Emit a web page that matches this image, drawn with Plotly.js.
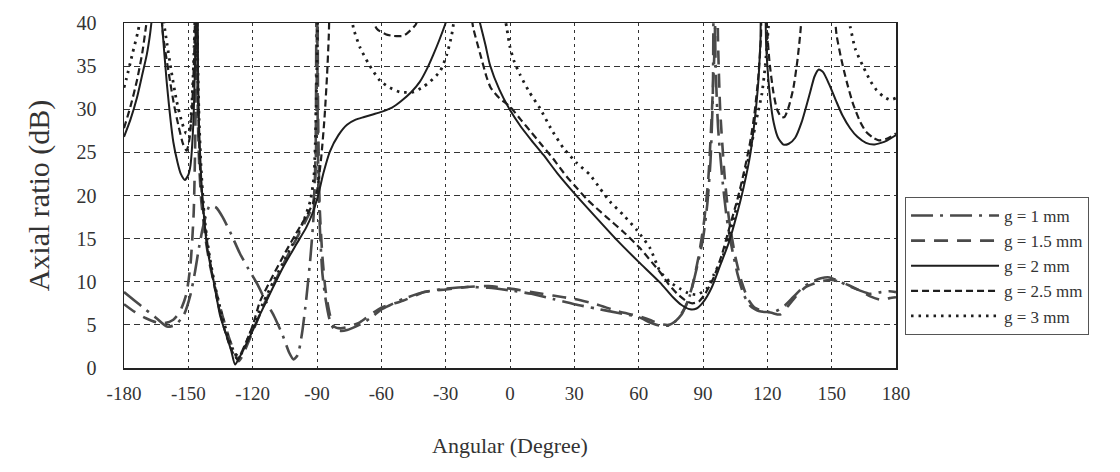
<!DOCTYPE html>
<html><head><meta charset="utf-8">
<script src="https://cdn.plot.ly/plotly-3.0.1.min.js"></script>
<style>html,body{margin:0;padding:0;background:#fff;}#chart{width:1120px;height:472px;}</style>
</head><body><div id="chart"></div>
<script>
// Axial ratio (dB) versus angle (degree) for five gap widths g
const xTicks = [-180,-150,-120,-90,-60,-30,0,30,60,90,120,150,180];
const yTicks = [0,5,10,15,20,25,30,35,40];
const seriesNames = ["g = 1 mm","g = 1.5 mm","g = 2 mm","g = 2.5 mm","g = 3 mm"];

const g1x = [-180,-175,-170,-165,-160,-156,-152,-149,-147,-145,-143,-140,-137,-134,-130,-126,-122,-118,-114,-110,-106,-103,-101,-99,-97,-95,-93,-91.5,-90.6,-90.1,-89.6,-88.8,-87.5,-86,-84,-82,-79,-76,-72,-68,-64,-60,-55,-50,-40,-30,-20,-10,0,10,20,30,40,50,60,65,70,75,80,84,87,90,92,93.5,94.6,95.2,95.8,97,99,101,103,106,109,112,116,120,124,128,132,136,140,145,149,153,158,163,168,173,177,180];
const g1y = [8.8,7.8,6.8,5.8,4.8,5.0,6.2,8.5,11,14,16.5,18.8,18.6,17.5,15.5,13.3,11.5,9.8,7.8,6.0,3.8,1.8,1.0,1.5,4,8,13,18,26,60,26,17,11,8,5.5,4.5,4.3,4.4,4.8,5.3,6.0,6.8,7.4,8.0,8.8,9.2,9.4,9.3,9.0,8.6,8.0,7.4,6.9,6.4,5.9,5.3,4.9,5.0,6.2,8.5,11.5,15,19,24,32,60,36,28,22,17.5,14.5,11,8.5,7.2,6.6,6.5,6.6,7.2,8.2,9.2,9.9,10.4,10.5,10.1,9.5,9.0,8.6,8.8,8.9,8.8];

const g15x = [-180,-175,-170,-165,-161,-157,-154,-151,-149,-147.5,-146.7,-146.2,-145.6,-145,-144,-142,-140,-137,-134,-131,-128,-126.5,-125,-120,-115,-110,-105,-100,-95,-92,-90.8,-90.2,-89.9,-89.5,-88.8,-87.5,-86,-84,-82,-79,-75,-70,-65,-60,-55,-50,-45,-40,-35,-30,-20,-10,0,10,20,30,40,50,60,65,70,74,78,82,85,88,90.5,92.5,94,95.5,96.2,97,98,100,102,105,108,111,114,118,122,126,130,134,138,142,146,150,154,158,163,168,173,177,180];
const g15y = [7.4,6.5,5.8,5.3,5.2,5.6,6.5,8.5,12,18,28,60,30,24,19.5,15,12,8.8,6,3.5,1.5,0.8,1.3,4.2,7.2,9.8,12.4,14.8,17.2,18.8,22,30,60,30,19,13,9,6.2,4.8,4.6,4.8,5.3,6.2,7.0,7.4,7.8,8.3,8.8,9.0,9.1,9.4,9.5,9.2,8.8,8.4,8.0,7.4,6.6,6.0,5.6,5.1,5.0,5.6,7.2,9.5,13,17,22,29,38,60,38,30,22.5,17.5,13,10,8,7,6.6,6.4,6.2,7.3,8.5,9.4,9.8,10.1,10.2,10.0,9.6,9.0,8.3,7.9,8.1,8.2];

const g2x = [-180,-177,-174,-171.5,-169.4,-167.8,-166.8,-165.5,-164,-163,-162.2,-160.1,-157,-155,-153.5,-151.6,-150,-149,-147.7,-146.9,-146.4,-146,-145.5,-145,-144,-143,-141.2,-138,-135.2,-132,-130,-128.2,-126,-121,-116,-111,-106,-100,-95,-92,-89.5,-87,-84,-80,-76,-72,-68,-64,-60,-55,-51,-46,-42,-38.5,-35.8,-33,-30.3,-28,-24,-20,-16,-14,-11.5,-9.3,-5,0,5,10,15.6,22,29.5,40,50,60,70,76,80,84,87,90,94,98,102,105.7,109,112,114,115.8,116.8,117.5,118.5,119.5,121.3,123,125,127.5,130,133,136,140,142,144,146,149,152,155,158.6,162,166,169.5,173,176,180];
const g2y = [26.8,28.8,31.3,34,36.3,38.8,41,44,44,41.5,39.6,33.2,26.2,23.8,22.5,21.8,22.4,23.5,28.2,35.1,42,60,35,28,22,18.5,13.9,9.8,6.1,3.6,2.0,0.4,1.3,3.8,6.5,9.1,11.6,14.2,16.3,18.0,20,22.6,25.1,27.0,28.2,28.8,29.1,29.4,29.7,30.2,30.9,32.0,33.2,34.8,36.3,38.0,39.8,41.5,46,45,42,40,37.5,35.1,32.3,29.9,28.0,26.4,24.7,22.6,20.4,17.5,14.8,12.3,9.9,8.2,7.3,6.8,6.9,7.6,9.3,11.9,14.5,17.7,21,24.7,28.5,33.2,38,43,43,37,31.3,28.4,26.7,25.9,26.0,26.7,28.5,32,33.8,34.6,34.3,32.8,31,29.3,27.8,26.8,26.1,25.9,26.1,26.4,27];

const g25x = [-180,-177,-174,-171.5,-169.8,-168.5,-165,-162.5,-161.8,-158.5,-156.5,-154.7,-152.5,-150.8,-149.5,-148.3,-147.3,-146.6,-146.2,-145.8,-145.2,-144.5,-143,-140,-137,-134,-131,-128.5,-127,-125,-120,-116.6,-111,-105,-100,-95,-92,-90,-88,-86.5,-85.3,-84.5,-84,-80,-68,-65,-62,-58,-54.5,-50,-48,-44,-41,-30,-20,-17.2,-14,-11,-9,-5,0,5,10,15,20,26.4,30,35.7,40,45,52.8,60.6,66,70,74,78,82,85,88,91,95,99,102,106,109,112,114,115.8,117,117.8,119,119.7,121,122.8,124.5,126.5,128,130,132.1,134,135.3,136.5,140,148,151,152.3,154.5,157,160,163.2,166,169.3,172,176,180];
const g25y = [27.8,30.3,33.3,36.5,39.5,42,46,41,38.6,33.2,30.3,28.2,26,25.2,26.5,30,36,45,60,36,28,23,18,12.5,8.4,5.2,2.8,1.4,1.0,1.9,4.9,7.7,10.5,13.3,15.5,17.6,19.0,20.5,24.5,29,34,38.5,42,48,46,41,39.3,38.7,38.5,38.5,38.8,39.8,42,48,44,39.5,36.5,33.8,32.5,31.3,30.3,28.8,27.3,25.8,24.3,22.2,21.2,19.6,18.6,17.5,15.8,13.9,12.3,11.1,9.7,8.6,7.8,7.5,7.7,8.6,10.5,13.3,16,19.5,22.6,26.2,29.5,33.8,38.2,43,43,39.8,35.5,32,30,29.1,29.1,30.3,32.4,35.6,38.6,42,47,47,42,38.6,35.8,33.2,30.6,28.6,27.4,26.7,26.4,26.6,27.2];

const g3x = [-180,-178.8,-176,-173.5,-172,-170,-165,-162,-160.5,-158,-155.5,-153,-151,-149.5,-148.5,-147.6,-147,-146.4,-145.8,-145,-144,-142.5,-140,-137,-134,-131,-128.5,-126.5,-124.5,-120,-115,-110,-105,-100,-96,-93,-91.5,-90.8,-90.2,-89.7,-89.2,-80,-74.5,-73,-70,-66,-60.6,-56,-51.3,-45,-40.5,-37.3,-32.6,-29.5,-27.2,-26,-24,-10,-3.5,-1.5,0,2,4.7,9,14,19,24.9,31,37.3,42,46.6,53,59.1,65.3,70,75,79.3,83,87.1,91.7,95,99.5,103,107.3,110.5,113.5,115.5,117.4,119,120.5,121.5,130,150,156,158.6,161,164.8,168,171,174,177.3,180];
const g3y = [32.5,33.6,36.5,39.0,41,44,45,41,38.5,34.5,31,28.5,27.2,27.5,30,35,40,60,38,29,23,17.5,12.8,8.9,5.8,3.3,1.8,1.3,2.0,4.8,7.6,10.2,12.6,15,17.2,19.5,22,26,33,40,48,50,42,39.4,37.2,35.3,33.3,32.5,32.0,32.0,32.6,33.2,34.4,36.3,38.6,40.5,44,47,42,39.4,37.2,35.5,34,32.0,30.1,27.8,25.5,23.8,22.4,20.8,19.3,17.7,16.0,13.9,11.2,9.9,9.2,8.7,8.5,9.2,10.8,13.1,16.2,20.1,23.5,27,29.5,31.7,35,39.5,43,46,46,42,39.6,37,34.9,33.3,32.2,31.5,31.1,31.3];

const font = "'Liberation Serif','Times New Roman',serif";
const dark = "#1e1e1e", grey = "#4a4a4a";
function tr(x, y, name, dash, width, color){
  return {x:x, y:y, name:name, type:'scatter', mode:'lines',
    line:{color:color, width:width, dash:dash, shape:'spline', smoothing:0.6}};
}
const data = [
  tr(g1x, g1y, seriesNames[0], '22px,7px,3px,7px', 2.6, grey),
  tr(g15x, g15y, seriesNames[1], '14px,9px', 2.6, grey),
  tr(g2x, g2y, seriesNames[2], 'solid', 2.0, dark),
  tr(g25x, g25y, seriesNames[3], '7px,4px', 2.2, dark),
  tr(g3x, g3y, seriesNames[4], '2.5px,5px', 2.8, dark)
];
const layout = {
  width:1120, height:472,
  margin:{l:124, r:224, t:23, b:104},
  paper_bgcolor:'#fff', plot_bgcolor:'#fff',
  font:{family:font, color:'#333', size:18},
  showlegend:true,
  legend:{x:1.0117, y:0.4957, xanchor:'left', yanchor:'top',
    bgcolor:'#fff', bordercolor:'#555', borderwidth:1,
    font:{family:font, size:17, color:'#333'}, itemwidth:88, tracegroupgap:0},
  xaxis:{range:[-180,180], tickvals:xTicks, ticktext:xTicks.map(String),
    showgrid:true, gridcolor:'#333', gridwidth:1, griddash:'3px,4px',
    zeroline:false, showline:true, linecolor:'#222', linewidth:1.5, mirror:true,
    ticks:'', ticklabelstandoff:8, tickfont:{family:font, size:19, color:'#333'},
    title:{text:'Angular (Degree)', font:{family:font, size:22, color:'#333'}, standoff:34}},
  yaxis:{range:[0,40], tickvals:yTicks, ticktext:yTicks.map(String),
    showgrid:true, gridcolor:'#333', gridwidth:1, griddash:'6px,4px',
    zeroline:false, showline:true, linecolor:'#222', linewidth:1.5, mirror:true,
    ticks:'', ticklabelstandoff:22, tickfont:{family:font, size:20, color:'#333'},
    title:{text:'Axial ratio (dB)', font:{family:font, size:30, color:'#333'}, standoff:18}}
};
Plotly.newPlot('chart', data, layout, {displayModeBar:false, staticPlot:true});
</script></body></html>
